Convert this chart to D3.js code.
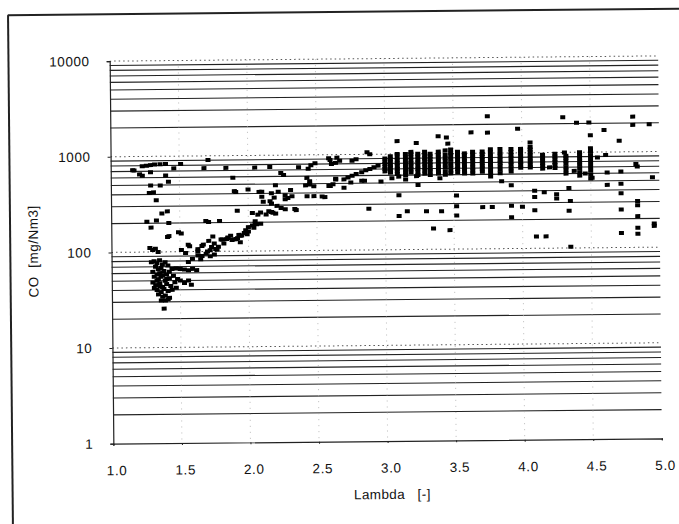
<!DOCTYPE html>
<html>
<head>
<meta charset="utf-8">
<script src="https://cdn.jsdelivr.net/npm/d3@7"></script>
<style>
  body { margin: 0; background: #fff; }
  svg { display: block; }
  text { font-family: "Liberation Sans", Arial, sans-serif; fill: #111; }
</style>
</head>
<body>
<svg id="chart" width="679" height="524"></svg>
<script>
// CO vs Lambda ([lambda, CO mg/Nm3])
const lowCluster = [
  [1.29, 78], [1.31, 80], [1.33, 76], [1.35, 82], [1.37, 74], [1.39, 78], [1.41, 72],
  [1.32, 70], [1.34, 66], [1.36, 68], [1.30, 62], [1.33, 58], [1.35, 60], [1.38, 63],
  [1.40, 58], [1.42, 62], [1.44, 66], [1.47, 67], [1.50, 66], [1.53, 65], [1.56, 64],
  [1.59, 66], [1.62, 64], [1.31, 55], [1.34, 52], [1.36, 55], [1.39, 50], [1.42, 53],
  [1.45, 56], [1.48, 52], [1.30, 48], [1.32, 45], [1.35, 47], [1.37, 43], [1.40, 46],
  [1.43, 44], [1.46, 48], [1.50, 50], [1.53, 47], [1.56, 50], [1.58, 45], [1.31, 42],
  [1.33, 40], [1.36, 38], [1.38, 41], [1.41, 39], [1.44, 40], [1.47, 42], [1.34, 36],
  [1.37, 34], [1.39, 35], [1.42, 33], [1.36, 31], [1.39, 31], [1.41, 32], [1.38, 25.5],
  [1.33, 50], [1.37, 57], [1.40, 52], [1.35, 44]
];

const risingBranch = [
  [1.28, 110], [1.30, 105], [1.32, 108], [1.34, 100], [1.41, 143], [1.51, 155],
  [1.51, 104], [1.54, 97], [1.56, 118], [1.56, 78], [1.59, 84], [1.63, 91], [1.63, 100],
  [1.65, 83], [1.66, 90], [1.67, 118], [1.69, 95], [1.70, 100], [1.72, 89], [1.72, 103],
  [1.75, 93], [1.75, 121], [1.77, 104], [1.74, 143], [1.78, 112], [1.81, 133],
  [1.82, 121], [1.85, 139], [1.85, 138], [1.88, 131], [1.90, 133], [1.92, 137],
  [1.94, 124], [1.94, 145], [1.97, 155], [1.99, 150], [2.00, 160], [2.00, 178],
  [2.03, 185], [2.04, 175], [2.05, 193], [2.06, 190], [2.05, 205], [2.09, 193],
  [1.80, 133], [1.84, 134], [1.87, 145], [1.91, 134], [1.93, 148], [1.95, 146],
  [1.98, 165], [1.57, 114], [1.63, 106], [1.66, 114], [1.71, 129], [1.73, 111], [1.76, 106]
];

const upperBand = [
  [1.16, 720], [1.17, 714], [1.23, 790], [1.26, 800], [1.29, 810], [1.32, 820],
  [1.36, 825], [1.40, 830], [1.51, 826], [1.71, 904], [1.23, 630], [1.21, 650],
  [1.29, 683], [1.40, 630], [1.46, 745], [1.68, 745], [1.84, 745], [1.89, 588],
  [2.05, 745], [2.16, 755], [2.24, 650], [2.26, 620], [2.37, 745], [2.44, 715],
  [2.46, 780], [2.49, 815], [2.60, 880], [2.64, 820], [1.29, 495], [1.36, 495],
  [1.42, 540], [1.28, 415], [1.31, 420], [1.33, 348], [1.37, 252], [1.41, 265],
  [1.26, 207], [1.33, 213], [1.29, 180], [1.42, 146], [1.49, 160], [1.42, 200],
  [1.69, 208], [1.71, 203], [1.79, 208], [1.92, 265], [1.90, 425], [2.00, 440],
  [1.91, 415], [2.03, 250], [2.07, 240], [2.09, 252], [2.13, 240], [2.17, 255],
  [2.20, 245], [2.17, 312], [2.21, 295], [2.27, 272], [2.35, 265], [2.10, 415],
  [2.10, 368], [2.11, 327], [2.17, 400], [2.22, 415], [2.27, 380], [2.31, 430],
  [2.29, 355], [2.32, 370], [2.20, 485], [2.42, 480], [2.45, 490], [2.48, 370],
  [2.56, 360], [2.60, 470], [2.64, 560], [2.08, 415], [2.16, 330], [2.19, 360],
  [2.24, 280], [2.27, 345], [2.34, 273], [2.15, 260], [2.18, 250], [2.43, 575],
  [2.45, 530], [2.48, 470], [2.43, 370], [2.54, 365], [2.59, 916], [2.61, 800],
  [2.67, 860], [2.65, 930], [2.59, 470], [2.62, 490], [2.64, 550], [2.70, 550],
  [2.73, 575], [2.76, 600], [2.79, 625], [2.83, 650], [2.86, 680], [2.89, 700],
  [2.92, 730], [2.95, 760], [2.70, 450], [2.75, 510], [2.83, 530], [2.76, 860],
  [2.79, 890], [2.87, 1050], [2.89, 1000], [2.88, 270], [2.85, 530], [2.97, 519]
];

const columnLambda = [3.00, 3.04, 3.09, 3.15, 3.19, 3.24, 3.29, 3.33, 3.39, 3.44, 3.48,
  3.53, 3.58, 3.64, 3.71, 3.77, 3.84, 3.92, 3.99, 4.06, 4.15, 4.24, 4.32, 4.42, 4.50];
const columnCO = [
  [660, 700, 740, 790, 840, 900],
  [640, 680, 720, 770, 820, 880, 950],
  [620, 660, 700, 750, 800, 860, 920, 1000],
  [600, 640, 690, 740, 790, 850, 920, 1000],
  [640, 690, 740, 800, 860, 930, 1000, 1050],
  [600, 650, 700, 750, 810, 870, 940, 1000],
  [620, 670, 720, 780, 840, 900, 970, 1050],
  [600, 650, 700, 760, 820, 880, 940, 1000],
  [620, 670, 720, 780, 840, 910, 980, 1050],
  [600, 650, 710, 770, 830, 900, 980, 1080],
  [620, 670, 730, 790, 860, 930, 1010, 1100],
  [640, 690, 740, 800, 860, 920, 980, 1040],
  [616, 660, 710, 770, 830, 890, 950, 1000],
  [616, 660, 710, 770, 830, 900, 970, 1040],
  [640, 690, 740, 800, 860, 920, 980, 1040],
  [570, 620, 680, 740, 800, 870, 940, 1020, 1100],
  [616, 670, 730, 790, 850, 920, 1000, 1100],
  [640, 690, 750, 810, 880, 950, 1020, 1100],
  [700, 750, 800, 860, 920, 990, 1060, 1100],
  [700, 750, 810, 870, 940, 1010, 1080, 1150],
  [680, 730, 780, 830, 890, 950],
  [690, 740, 790, 850, 910, 970],
  [600, 650, 700, 760, 820, 880, 920],
  [570, 620, 680, 740, 800, 870, 940, 1000],
  [530, 580, 640, 700, 770, 850, 930, 1010, 1100]
];

const scattered = [
  [3.09, 1365], [3.23, 1300], [3.39, 1520], [3.45, 1470], [3.46, 1270], [3.63, 1656],
  [3.75, 1640], [3.75, 2430], [3.97, 1790], [4.06, 1280], [4.30, 2330], [4.40, 2040],
  [4.49, 2040], [4.50, 1500], [4.60, 1700], [4.71, 1310], [4.81, 2330], [4.81, 1910],
  [4.93, 1930], [4.61, 930], [4.31, 1000], [4.83, 745], [4.84, 700], [4.72, 624],
  [4.62, 610], [4.51, 540], [4.95, 540], [4.62, 453], [4.72, 465], [4.34, 425],
  [4.25, 365], [4.16, 385], [4.09, 400], [4.09, 345], [4.25, 330], [4.72, 370],
  [3.85, 507], [3.92, 460], [3.52, 363], [3.52, 280], [3.52, 225], [3.10, 370],
  [3.10, 225], [3.16, 252], [3.30, 250], [3.41, 250], [3.35, 165], [3.47, 158],
  [3.71, 273], [3.78, 273], [3.92, 280], [3.92, 212], [4.00, 273], [4.09, 250],
  [4.10, 133], [4.17, 133], [4.35, 310], [4.34, 245], [4.35, 103], [4.72, 250],
  [4.72, 142], [4.84, 305], [4.84, 275], [4.84, 212], [4.84, 160], [4.84, 139],
  [4.96, 177], [4.96, 167], [3.24, 472], [3.40, 553], [3.23, 585], [3.10, 580],
  [3.05, 560], [3.15, 540], [4.55, 880], [4.20, 700], [4.38, 640], [4.46, 600]
];

const xTicks = [1.0, 1.5, 2.0, 2.5, 3.0, 3.5, 4.0, 4.5, 5.0];
const yDecades = [1, 10, 100, 1000, 10000];

const svg = d3.select('#chart');
const root = svg.append('g').attr('transform', 'rotate(-0.55, 387, 250)');

// frame of the scanned page
root.append('line').attr('x1', 10).attr('y1', 11.5).attr('x2', 690).attr('y2', 11.5)
  .attr('stroke', '#222').attr('stroke-width', 2);
root.append('line').attr('x1', 10.3).attr('y1', 11.5).attr('x2', 10.3).attr('y2', 530)
  .attr('stroke', '#222').attr('stroke-width', 2);

const x = d3.scaleLinear().domain([1, 5]).range([111.5, 660]);
const y = d3.scaleLog().domain([1, 10000]).range([441, 58.5]);

// horizontal grid: solid for 2..9, dotted for decades
const minor = y.ticks().filter(v => !yDecades.includes(v));
root.append('g').selectAll('line').data(minor).join('line')
  .attr('x1', x(1)).attr('x2', x(5))
  .attr('y1', d => y(d)).attr('y2', d => y(d))
  .attr('stroke', '#222').attr('stroke-width', 1.1);

root.append('g').selectAll('line').data(yDecades.slice(1)).join('line')
  .attr('x1', x(1)).attr('x2', x(5))
  .attr('y1', d => y(d)).attr('y2', d => y(d))
  .attr('stroke', '#555').attr('stroke-width', 1).attr('stroke-dasharray', '1.5,3');

// vertical grid, faint dotted
root.append('g').selectAll('line').data(xTicks.slice(1, -1)).join('line')
  .attr('x1', d => x(d)).attr('x2', d => x(d))
  .attr('y1', y(10000)).attr('y2', y(1))
  .attr('stroke', '#aaa').attr('stroke-width', 0.8).attr('stroke-dasharray', '1,5');

// axes
const xAxis = root.append('g').attr('transform', `translate(0,${y(1)})`)
  .call(d3.axisBottom(x).tickValues(xTicks).tickFormat(d3.format('.1f')).tickSize(2).tickPadding(20));
const yAxis = root.append('g').attr('transform', `translate(${x(1)},0)`)
  .call(d3.axisLeft(y).tickValues(yDecades).tickFormat(d3.format('d')).tickSize(3).tickPadding(17));

[xAxis, yAxis].forEach(a => {
  a.select('.domain').attr('stroke', '#222').attr('stroke-width', 1.2);
  a.selectAll('.tick line').attr('stroke', '#222');
  a.selectAll('text').attr('font-size', 13.5).attr('fill', '#111')
    .style('font-family', '"Liberation Sans", Arial, sans-serif').attr('letter-spacing', 0.6);
});
xAxis.selectAll('text').attr('dx', 3);

// points
const allPoints = lowCluster.concat(risingBranch, upperBand, scattered);
columnLambda.forEach((lam, i) => columnCO[i].forEach(v => allPoints.push([lam, v])));

root.append('g').selectAll('rect').data(allPoints).join('rect')
  .attr('x', d => x(d[0]) - 2.5).attr('y', d => y(d[1]) - 2)
  .attr('width', 5).attr('height', 4).attr('fill', '#000');

// titles
root.append('text').attr('x', 390).attr('y', 499).attr('text-anchor', 'middle')
  .attr('font-size', 13.5).attr('letter-spacing', 0.4).attr('xml:space', 'preserve')
  .text('Lambda   [-]');
root.append('text').attr('transform', 'translate(38,248) rotate(-90)').attr('text-anchor', 'middle')
  .attr('font-size', 13.5).attr('letter-spacing', 0.5).attr('xml:space', 'preserve')
  .text('CO  [mg/Nm3]');
</script>
</body>
</html>
